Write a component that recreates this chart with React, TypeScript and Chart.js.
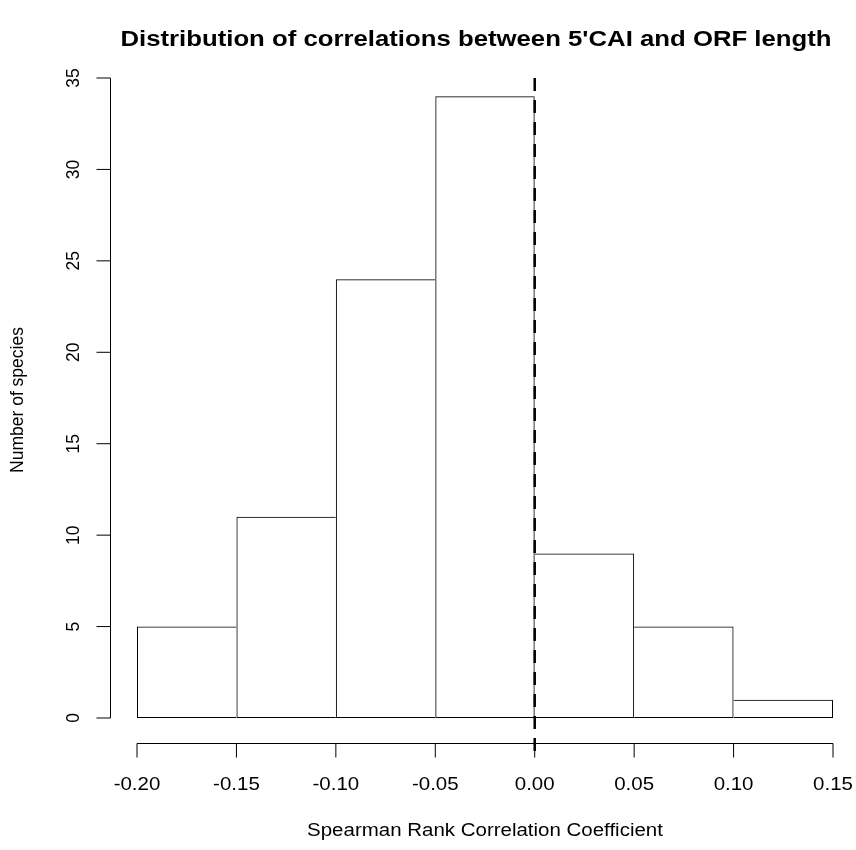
import React, { useEffect, useRef } from "react";
import { Chart, registerables } from "chart.js";

Chart.register(...registerables);

// Histogram bins (left edges, width 0.05) and species counts per bin
const binStarts = [-0.2, -0.15, -0.1, -0.05, 0.0, 0.05, 0.1];
const binWidth = 0.05;
const counts = [5, 11, 24, 34, 9, 5, 1];

const xTicks = [-0.2, -0.15, -0.1, -0.05, 0.0, 0.05, 0.1, 0.15];
const xTickLabels = ["-0.20", "-0.15", "-0.10", "-0.05", "0.00", "0.05", "0.10", "0.15"];
const yTicks = [0, 5, 10, 15, 20, 25, 30, 35];

// Reference line at zero correlation
const refLineX = 0;
const refLineYRange = [35, -2];

const titleText = "Distribution of correlations between 5'CAI and ORF length";
const xTitle = "Spearman Rank Correlation Coefficient";
const yTitle = "Number of species";

const FONT = "'Liberation Sans', Arial, Helvetica, sans-serif";
const WIDE = 1.17; // horizontal text is drawn slightly widened

function wideText(ctx: CanvasRenderingContext2D, text: string, x: number, y: number) {
  ctx.save();
  ctx.translate(x, y);
  ctx.scale(WIDE, 1);
  ctx.fillText(text, 0, 0);
  ctx.restore();
}

function upText(ctx: CanvasRenderingContext2D, text: string, x: number, y: number) {
  ctx.save();
  ctx.translate(x, y);
  ctx.rotate(-Math.PI / 2);
  ctx.fillText(text, 0, 0);
  ctx.restore();
}

// Shared edges between neighbouring bins are drawn once, by the taller bin
function binBorder(ctx: any) {
  const i = ctx.dataIndex;
  const h = counts[i];
  const left = i === 0 || h > counts[i - 1] ? 1 : 0;
  const right = i === counts.length - 1 || h >= counts[i + 1] ? 1 : 0;
  return { top: 1, bottom: 1, left, right };
}

const baseAxesPlugin = {
  id: "baseAxes",
  afterDraw(chart: any) {
    const { ctx } = chart;
    const xs = chart.scales.x;
    const ys = chart.scales.y;
    ctx.save();
    ctx.strokeStyle = "#000";
    ctx.fillStyle = "#000";
    ctx.lineWidth = 1;

    // bottom axis
    const axisY = 743.5;
    const x0 = xs.getPixelForValue(xTicks[0]);
    const x1 = xs.getPixelForValue(xTicks[xTicks.length - 1]);
    ctx.beginPath();
    ctx.moveTo(x0, axisY);
    ctx.lineTo(x1, axisY);
    xTicks.forEach((t) => {
      const px = xs.getPixelForValue(t);
      ctx.moveTo(px, axisY);
      ctx.lineTo(px, axisY + 14);
    });
    ctx.stroke();
    ctx.font = `17.5px ${FONT}`;
    ctx.textAlign = "center";
    ctx.textBaseline = "middle";
    xTicks.forEach((t, i) => {
      wideText(ctx, xTickLabels[i], xs.getPixelForValue(t), 785);
    });

    // left axis
    const axisX = 110.5;
    ctx.beginPath();
    ctx.moveTo(axisX, ys.getPixelForValue(yTicks[0]));
    ctx.lineTo(axisX, ys.getPixelForValue(yTicks[yTicks.length - 1]));
    yTicks.forEach((t) => {
      const py = ys.getPixelForValue(t);
      ctx.moveTo(axisX, py);
      ctx.lineTo(axisX - 14, py);
    });
    ctx.stroke();
    yTicks.forEach((t) => upText(ctx, String(t), 74, ys.getPixelForValue(t)));

    // axis titles
    wideText(ctx, xTitle, 485, 831);
    upText(ctx, yTitle, 18, 400);

    // main title
    ctx.font = `bold 22px ${FONT}`;
    wideText(ctx, titleText, 476, 40);
    ctx.restore();
  },
};

export default function App() {
  const canvasRef = useRef<HTMLCanvasElement | null>(null);

  useEffect(() => {
    if (!canvasRef.current) return;
    const chart = new Chart(canvasRef.current, {
      type: "bar",
      data: {
        datasets: [
          {
            type: "bar",
            data: binStarts.map((b, i) => ({ x: b + binWidth / 2, y: counts[i] })),
            backgroundColor: "rgba(255,255,255,0)",
            borderColor: "#000",
            borderWidth: binBorder,
            borderSkipped: false,
            inflateAmount: 0,
            barPercentage: 1,
            categoryPercentage: 1,
          } as any,
          {
            type: "line",
            data: refLineYRange.map((y) => ({ x: refLineX, y })),
            borderColor: "#000",
            borderWidth: 2.5,
            borderDash: [13, 9],
            pointRadius: 0,
            fill: false,
            clip: false,
          } as any,
        ],
      },
      options: {
        animation: false,
        responsive: false,
        devicePixelRatio: 1,
        layout: { padding: { left: 137, right: 23, top: 78, bottom: 132 } },
        plugins: {
          legend: { display: false },
          tooltip: { enabled: false },
          title: { display: false },
        },
        scales: {
          x: { type: "linear", min: -0.2, max: 0.15, display: false, offset: false },
          y: { type: "linear", min: 0, max: 35, display: false },
        },
      },
      plugins: [baseAxesPlugin],
    });
    return () => chart.destroy();
  }, []);

  return (
    <div style={{ position: "absolute", left: 0, top: 0, width: 856, height: 850, background: "#fff" }}>
      <canvas ref={canvasRef} width={856} height={850} style={{ display: "block" }} />
    </div>
  );
}
